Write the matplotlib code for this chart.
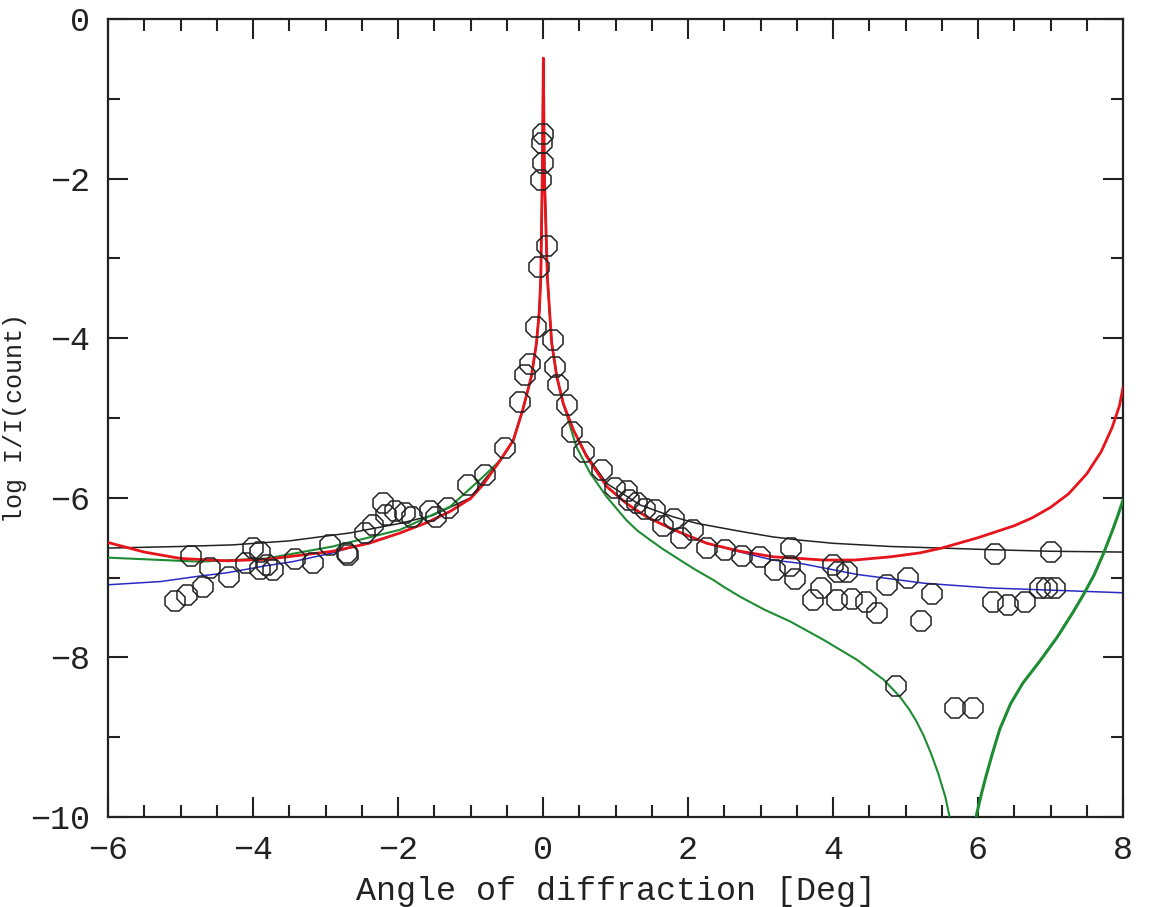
import matplotlib.pyplot as plt
from matplotlib.ticker import MultipleLocator

plt.rcParams['font.family'] = ['Liberation Mono', 'DejaVu Sans Mono']

# measured points (angle in deg, log intensity)
obs_x = [-5.08, -4.91, -4.86, -4.69, -4.59, -4.33, -4.09, -4.00, -3.90, -3.90,
         -3.81, -3.72, -3.42, -3.17, -2.94, -2.71, -2.69, -2.46, -2.34, -2.21,
         -2.16, -2.04, -1.90, -1.81, -1.56, -1.47, -1.31, -1.03, -0.80, -0.52,
         -0.32, -0.25, -0.18, -0.09, -0.05, -0.03, 0.00, -0.02, 0.00, 0.05,
         0.14, 0.17, 0.21, 0.33, 0.40, 0.56, 0.81, 0.99, 1.16, 1.18,
         1.29, 1.41, 1.54, 1.66, 1.80, 1.91, 2.07, 2.26, 2.51, 2.74,
         2.99, 3.20, 3.42, 3.41, 3.48, 3.84, 3.72, 4.00, 4.07, 4.19,
         4.05, 4.26, 4.46, 4.60, 4.74, 5.04, 5.36, 5.21, 4.87, 5.68,
         5.93, 6.23, 6.21, 6.42, 6.65, 6.86, 6.95, 7.06, 7.01]
obs_y = [-7.29, -7.22, -6.73, -7.12, -6.88, -6.99, -6.82, -6.63, -6.68, -6.89,
         -6.84, -6.90, -6.77, -6.82, -6.59, -6.69, -6.72, -6.44, -6.34, -6.07,
         -6.22, -6.17, -6.19, -6.24, -6.17, -6.24, -6.13, -5.84, -5.71, -5.38,
         -4.80, -4.46, -4.32, -3.86, -3.11, -2.02, -1.80, -1.55, -1.44, -2.85,
         -4.02, -4.36, -4.59, -4.84, -5.17, -5.42, -5.65, -5.88, -5.92, -6.03,
         -6.07, -6.14, -6.15, -6.35, -6.26, -6.51, -6.40, -6.63, -6.66, -6.73,
         -6.74, -6.91, -6.63, -6.86, -7.02, -7.13, -7.28, -6.84, -6.93, -6.93,
         -7.28, -7.27, -7.31, -7.44, -7.09, -7.01, -7.21, -7.55, -8.36, -8.64,
         -8.64, -6.70, -7.30, -7.34, -7.30, -7.13, -7.13, -7.13, -6.68]

# shared central peak
peak_x = [-0.59, -0.41, -0.28, -0.16, -0.09, -0.05, -0.03, -0.02, -0.01, 0.005,
          0.02, 0.04, 0.06, 0.09, 0.12, 0.19, 0.28]
peak_y = [-5.53, -5.28, -4.90, -4.48, -4.06, -3.65, -3.23, -2.60, -1.98, -0.49,
          -1.98, -2.60, -3.23, -3.65, -4.06, -4.48, -4.82]

red_x = [-6.0, -5.5, -5.0, -4.36, -3.8, -2.9, -2.4, -1.97, -1.6, -1.28, -1.0, -0.83] + peak_x + \
        [0.42, 0.60, 0.88, 1.15, 1.43, 1.80, 2.26, 2.72, 3.18, 3.54, 3.86, 4.3, 4.79,
         5.2, 5.5, 6.0, 6.5, 6.75, 7.0, 7.25, 7.5, 7.7, 7.85, 7.95, 8.0]
red_y = [-6.56, -6.68, -6.76, -6.79, -6.77, -6.67, -6.57, -6.44, -6.31, -6.17, -6.01, -5.84] + peak_y + \
        [-5.15, -5.48, -5.86, -6.07, -6.24, -6.40, -6.57, -6.67, -6.74, -6.76, -6.78, -6.78, -6.74,
         -6.69, -6.63, -6.50, -6.35, -6.25, -6.12, -5.95, -5.70, -5.42, -5.12, -4.85, -4.62]

black_x = [-6.0, -5.0, -4.28, -3.5, -2.66, -1.97, -1.52, -1.0, -0.83] + peak_x + \
          [0.42, 0.60, 0.88, 1.34, 1.80, 2.12, 2.72, 3.17, 3.54, 4.0, 4.79, 5.5, 6.17, 7.0, 8.0]
black_y = [-6.63, -6.61, -6.59, -6.54, -6.44, -6.32, -6.22, -6.00, -5.80] + peak_y + \
          [-5.15, -5.46, -5.82, -6.09, -6.24, -6.32, -6.42, -6.49, -6.53, -6.57, -6.61, -6.63, -6.65, -6.67, -6.68]

blue_x = [-6.0, -5.28, -4.73, -4.36, -3.81, -3.45, -2.9, -2.52, -2.0, -1.6, -1.28, -1.0, -0.83] + peak_x + \
         [0.42, 0.60, 0.88, 1.15, 1.43, 1.80, 2.26, 2.72, 3.17, 3.54, 4.33, 5.25, 6.17, 7.09, 8.0]
blue_y = [-7.09, -7.05, -6.98, -6.94, -6.85, -6.80, -6.69, -6.59, -6.45, -6.31, -6.17, -6.01, -5.84] + peak_y + \
         [-5.15, -5.48, -5.86, -6.07, -6.24, -6.40, -6.57, -6.68, -6.78, -6.82, -6.96, -7.07, -7.13, -7.16, -7.19]

green_x = [-6.0, -5.0, -4.73, -3.81, -2.9, -1.97, -1.28, -0.83] + peak_x + \
          [0.35, 0.46, 0.65, 0.88, 1.15, 1.30, 1.48, 1.65, 1.89, 2.10, 2.35, 2.50, 2.72, 3.05,
           3.41, 3.87, 4.33, 4.70, 4.92, 5.05, 5.15, 5.25, 5.35, 5.45, 5.55, 5.62, 5.66]
green_y = [-6.75, -6.79, -6.80, -6.76, -6.61, -6.40, -6.11, -5.74] + peak_y + \
          [-5.03, -5.36, -5.69, -5.99, -6.28, -6.41, -6.53, -6.64, -6.78, -6.90, -7.03, -7.12, -7.24, -7.40,
           -7.55, -7.78, -8.03, -8.28, -8.49, -8.65, -8.80, -8.98, -9.20, -9.45, -9.75, -10.05, -10.3]
green2_x = [5.95, 5.98, 6.05, 6.11, 6.20, 6.30, 6.45, 6.62, 6.85, 7.09, 7.30, 7.45, 7.60,
            7.73, 7.85, 7.93, 8.0]
green2_y = [-10.3, -9.97, -9.70, -9.49, -9.20, -8.90, -8.58, -8.32, -8.05, -7.75, -7.45, -7.22, -6.97,
            -6.70, -6.42, -6.22, -6.03]

fig = plt.figure(figsize=(11.5, 9.07), dpi=100)
ax = fig.add_axes([108 / 1150, 1 - 817 / 907, (1123 - 108) / 1150, (817 - 19) / 907])

ax.plot(black_x, black_y, color='#222222', lw=1.1, zorder=2)
ax.plot(blue_x, blue_y, color='#2a2ac8', lw=1.1, zorder=2)
ax.plot(green_x, green_y, color='#1e8c32', lw=1.5, zorder=3)
ax.plot(green2_x, green2_y, color='#1e8c32', lw=2.2, zorder=3)
ax.plot(red_x, red_y, color='#e8141c', lw=2.0, zorder=4)
ax.plot(obs_x, obs_y, ls='none', marker='8', ms=15, mfc='none', mec='#222222', mew=1.1, zorder=5)

ax.set_xlim(-6, 8)
ax.set_ylim(-10, 0)
ax.xaxis.set_major_locator(MultipleLocator(2))
ax.xaxis.set_minor_locator(MultipleLocator(0.5))
ax.yaxis.set_major_locator(MultipleLocator(2))
ax.yaxis.set_minor_locator(MultipleLocator(1))
ax.tick_params(which='both', direction='in', top=True, right=True, width=1.5,
               colors='#222222', labelsize=24)
ax.tick_params(which='major', length=14.5, pad=13)
ax.tick_params(which='minor', length=8.5)
for s in ax.spines.values():
    s.set_linewidth(1.6)
    s.set_color('#222222')

ax.set_xlabel('Angle of diffraction [Deg]', fontsize=24, color='#222222', labelpad=7)
fig.text(3 / 1150, 1 - 418 / 907, 'log I/I(count)', rotation=90, ha='left', va='center',
         fontsize=18, color='#222222')

fig.savefig('out.png', dpi=100, facecolor='white')
